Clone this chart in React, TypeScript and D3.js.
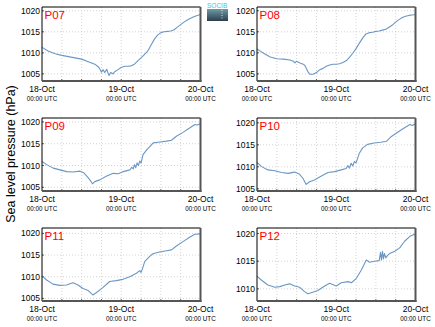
import React from "react";
import * as d3 from "d3";

const STATIONS = ["P07", "P08", "P09", "P10", "P11", "P12"];
const DATE_LABELS = ["18-Oct", "19-Oct", "20-Oct"];
const TIME_LABEL = "00:00 UTC";
const Y_LABEL = "Sea level pressure (hPa)";

const P07_H = [0, 2, 4, 6, 8, 10, 12, 14, 16, 17, 17.5, 18, 18.5, 19, 19.6, 20, 20.3, 20.8, 21.5, 22, 23, 24, 25, 26, 27, 28, 29, 30, 31, 32, 33, 34, 35, 36, 37, 38, 39, 40, 41, 42, 43, 44, 45, 46, 47, 48];
const P07_V = [1011.3, 1010.4, 1009.8, 1009.4, 1009.1, 1008.8, 1008.5, 1007.9, 1007.3, 1006.7, 1006.2, 1005.4, 1006.0, 1005.3, 1006.1, 1005.2, 1004.6, 1005.3, 1005.0, 1005.5, 1006.0, 1006.5, 1006.8, 1006.8, 1006.9, 1007.3, 1008.1, 1008.8, 1009.6, 1010.4, 1011.8, 1013.2, 1014.2, 1014.8, 1015.0, 1015.1, 1015.2, 1015.5, 1016.1, 1016.7, 1017.3, 1017.8, 1018.2, 1018.6, 1018.9, 1019.1];

const P08_H = [0, 1, 2, 4, 6, 8, 10, 11, 11.5, 12, 13, 14, 14.5, 15, 15.5, 16, 17, 18, 19, 20, 21, 22, 23, 24, 25, 26, 27, 28, 29, 30, 31, 32, 33, 34, 35, 36, 37, 38, 39, 40, 41, 42, 43, 44, 45, 46, 47, 48];
const P08_V = [1010.9, 1010.4, 1009.9, 1009.0, 1008.6, 1008.5, 1008.3, 1008.0, 1007.6, 1008.0, 1007.6, 1007.3, 1007.0, 1006.2, 1005.4, 1004.9, 1004.9, 1005.3, 1006.0, 1006.3, 1006.8, 1007.1, 1007.3, 1007.3, 1007.4, 1007.7, 1008.1, 1008.9, 1009.9, 1011.0, 1012.3, 1013.5, 1014.5, 1014.8, 1014.9, 1015.1, 1015.2, 1015.4, 1015.6, 1016.1, 1016.6, 1017.3, 1017.9, 1018.4, 1018.7, 1018.9, 1019.0, 1019.1];

const P09_H = [0, 1.4, 3.4, 5.4, 7.5, 9.5, 11.5, 12.5, 13.5, 14.5, 15.3, 16, 17.5, 19.6, 21.6, 23.1, 24.6, 26.6, 27.2, 27.6, 28.0, 28.4, 28.8, 29.2, 29.6, 30.0, 30.6, 31.7, 33.7, 35.7, 37.7, 39.2, 40.7, 42.7, 44.7, 46.3, 47.0, 48];
const P09_V = [1010.9, 1010.2, 1009.4, 1009.0, 1008.6, 1008.5, 1008.7, 1008.4, 1007.6, 1006.7, 1005.8, 1006.3, 1006.7, 1007.6, 1008.2, 1008.1, 1008.6, 1009.0, 1009.6, 1009.2, 1010.2, 1009.5, 1010.6, 1010.0, 1011.0, 1010.6, 1012.5, 1013.6, 1015.2, 1015.4, 1015.6, 1015.8, 1016.7, 1017.6, 1018.6, 1019.4, 1019.3, 1019.6];

const P10_H = [0, 1.3, 3.3, 5.4, 7.4, 9.4, 11.4, 12.9, 13.9, 14.9, 15.9, 17.4, 19.5, 21.5, 23.5, 25.5, 27.0, 27.5, 28.0, 28.5, 29.0, 29.5, 30.0, 31.0, 32.0, 33.5, 35.5, 37.5, 39.2, 40.7, 42.7, 44.7, 46.3, 47.0, 48];
const P10_V = [1011.0, 1010.1, 1009.3, 1009.1, 1008.7, 1008.5, 1008.8, 1008.3, 1007.4, 1006.0, 1006.6, 1007.0, 1007.9, 1008.7, 1008.9, 1009.3, 1009.6, 1010.3, 1009.7, 1010.8, 1010.2, 1011.2, 1010.9, 1013.1, 1014.3, 1015.1, 1015.4, 1015.6, 1015.8, 1016.9, 1017.9, 1018.9, 1019.6, 1019.4, 1019.8];

const P11_H = [0, 1.3, 3.3, 5.4, 7.4, 9.4, 10.9, 12.4, 14.0, 15.4, 16.4, 18.4, 20.5, 22.5, 24.5, 26.6, 28.6, 29.6, 30.0, 30.4, 31.1, 32.6, 33.6, 35.6, 37.7, 39.2, 40.7, 42.7, 44.7, 46.3, 48];
const P11_V = [1010.2, 1009.3, 1008.3, 1008.0, 1008.1, 1008.6, 1008.1, 1007.3, 1006.8, 1005.8, 1006.3, 1007.5, 1008.9, 1009.1, 1009.4, 1010.0, 1010.8, 1011.4, 1011.0, 1011.8, 1013.5, 1014.7, 1015.3, 1015.7, 1016.0, 1016.2, 1017.1, 1018.1, 1019.1, 1019.8, 1019.9];

const P12_H = [0, 1.3, 3.3, 5.4, 6.9, 8.4, 9.9, 11.4, 12.9, 14.4, 15.4, 16.9, 18.4, 20.5, 22.0, 24.0, 25.5, 27.6, 28.6, 30.1, 31.6, 33.1, 34.1, 35.6, 37.0, 37.4, 37.7, 38.0, 38.3, 38.6, 39.0, 39.5, 40.2, 41.7, 43.2, 44.7, 46.3, 48];
const P12_V = [1012.3, 1011.6, 1010.7, 1010.3, 1010.4, 1010.7, 1010.9, 1010.5, 1010.3, 1009.5, 1009.1, 1009.4, 1009.7, 1010.5, 1011.0, 1010.5, 1011.1, 1011.3, 1011.1, 1011.9, 1013.4, 1015.2, 1014.8, 1015.0, 1015.1, 1016.6, 1015.2, 1016.8, 1015.4, 1016.4, 1015.6, 1016.0, 1016.4, 1016.8, 1017.4, 1018.6, 1019.5, 1019.9];

const HOURS = [P07_H, P08_H, P09_H, P10_H, P11_H, P12_H];
const VALUES = [P07_V, P08_V, P09_V, P10_V, P11_V, P12_V];
const Y_DOMAINS: [number, number][] = [
  [1003.3, 1020.9],
  [1003.3, 1020.9],
  [1004.15, 1020.9],
  [1004.5, 1021.1],
  [1004.4, 1021.25],
  [1007.8, 1021.0],
];

const W = 435;
const H = 327;
const COL_X = [42, 257];
const ROW_Y: [number, number][] = [
  [7, 81],
  [118, 191],
  [228, 301],
];
const PANEL_W = 158.5;
const LINE_COLOR = "#6b97c4";
const FONT = "'Liberation Sans', Arial, Helvetica, sans-serif";

function Panel({ idx }: { idx: number }) {
  const col = idx % 2;
  const row = Math.floor(idx / 2);
  const x0 = COL_X[col];
  const x1 = x0 + PANEL_W;
  const [y0, y1] = ROW_Y[row];
  const x = d3.scaleLinear().domain([0, 48]).range([x0, x1]);
  const y = d3.scaleLinear().domain(Y_DOMAINS[idx]).range([y1, y0]);
  const [lo, hi] = Y_DOMAINS[idx];
  const yTicks = d3.range(Math.ceil(lo / 5) * 5, hi + 0.001, 5);
  const xGrid = d3.range(6, 48, 6);
  const pts = HOURS[idx].map((h, i) => [h, VALUES[idx][i]] as [number, number]);
  const line = d3
    .line<[number, number]>()
    .x((d) => x(d[0]))
    .y((d) => y(d[1]));
  return (
    <g>
      <rect x={x0} y={y0} width={x1 - x0} height={y1 - y0} fill="#fff" />
      {xGrid.map((h) => (
        <line key={"vx" + h} x1={x(h)} x2={x(h)} y1={y0} y2={y1} stroke="#c8c8c8" strokeWidth={0.8} strokeDasharray="1,2" />
      ))}
      {yTicks.map((t) => (
        <line key={"hy" + t} x1={x0} x2={x1} y1={y(t)} y2={y(t)} stroke="#c8c8c8" strokeWidth={0.8} strokeDasharray="1,2" />
      ))}
      {xGrid.map((h) => (
        <line key={"tx" + h} x1={x(h)} x2={x(h)} y1={y1} y2={y1 - 2} stroke="#333" strokeWidth={0.8} />
      ))}
      {yTicks.map((t) => (
        <line key={"ty" + t} x1={x0} x2={x0 + 2} y1={y(t)} y2={y(t)} stroke="#333" strokeWidth={0.8} />
      ))}
      <path d={line(pts) || ""} fill="none" stroke={LINE_COLOR} strokeWidth={1.1} strokeLinejoin="round" />
      <line x1={x0} x2={x1} y1={y0} y2={y0} stroke="#000" strokeWidth={1} />
      <line x1={x0} x2={x0} y1={y0} y2={y1} stroke="#000" strokeWidth={1} />
      <line x1={x1} x2={x1} y1={y0} y2={y1 + 1} stroke="#555" strokeWidth={2} />
      <line x1={x0} x2={x1 + 1} y1={y1} y2={y1} stroke="#555" strokeWidth={2} />
      <text x={x0 + 2.5} y={y0 + 12} fill="#f00" fontSize={11.5} fontFamily={FONT}>
        {STATIONS[idx]}
      </text>
      {yTicks.map((t) => (
        <text key={"yl" + t} x={x0 - 2} y={y(t) + 3} textAnchor="end" fontSize={8.5} fontFamily={FONT} fill="#000">
          {t}
        </text>
      ))}
      {DATE_LABELS.map((lab, i) => (
        <g key={lab}>
          <text x={x(i * 24)} y={y1 + 11} textAnchor="middle" fontSize={8.5} fontFamily={FONT} fill="#000">
            {lab}
          </text>
          <text x={x(i * 24)} y={y1 + 20} textAnchor="middle" fontSize={6.3} fontFamily={FONT} fill="#000">
            {TIME_LABEL}
          </text>
        </g>
      ))}
    </g>
  );
}

export default function App() {
  return (
    <svg width={W} height={H} style={{ position: "absolute", left: 0, top: 0, background: "#fff" }}>
      <defs>
        <linearGradient id="logoGrad" x1="0" y1="0" x2="0" y2="1">
          <stop offset="0" stopColor="#6f9aa8" />
          <stop offset="1" stopColor="#2d3e4c" />
        </linearGradient>
      </defs>
      <rect x={0} y={0} width={W} height={H} fill="#fff" />
      {STATIONS.map((s, i) => (
        <Panel key={s} idx={i} />
      ))}
      <text
        transform="translate(14.5,154) rotate(-90)"
        textAnchor="middle"
        fontSize={12.5}
        fontFamily={FONT}
        fill="#000"
      >
        {Y_LABEL}
      </text>
      <g>
        <rect x={207} y={9} width={21} height={12} fill="url(#logoGrad)" />
        <line x1={222} x2={222} y1={10} y2={20} stroke="#fff" strokeWidth={0.8} strokeDasharray="1,1.5" />
        <text x={207} y={8} fontSize={6.5} fontFamily={FONT} fill="#3cc3dc">
          SOCIB
        </text>
      </g>
    </svg>
  );
}
